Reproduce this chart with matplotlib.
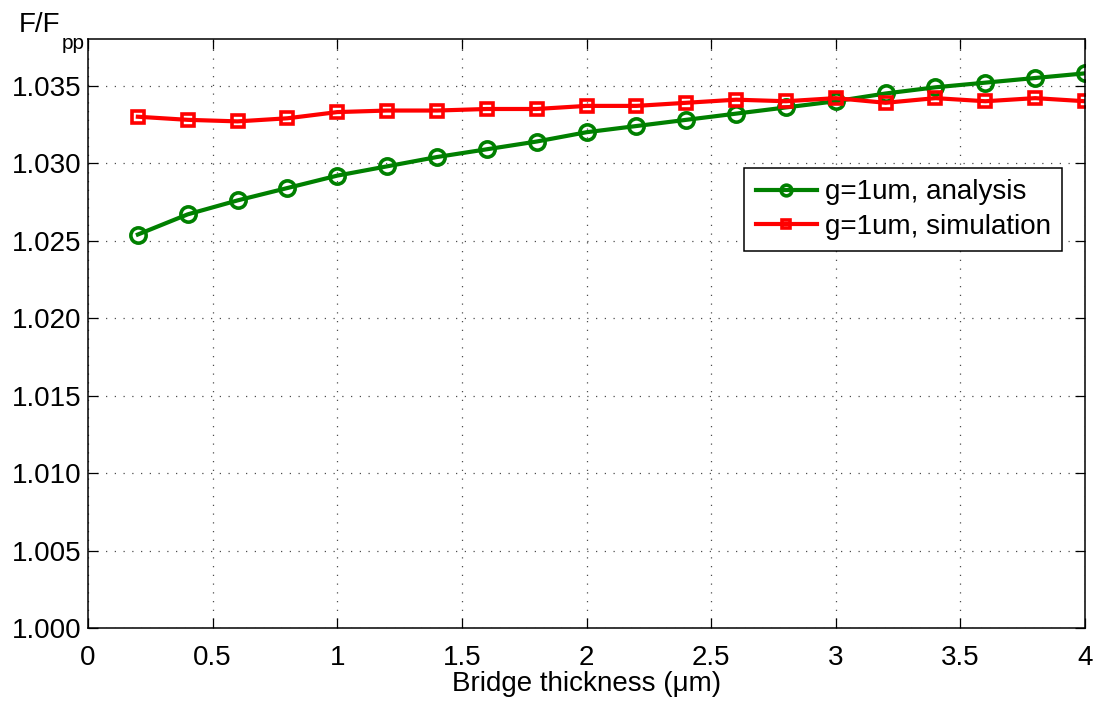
import matplotlib
matplotlib.use('Agg')
import matplotlib.pyplot as plt

plt.rcParams['font.family'] = ['Liberation Sans', 'DejaVu Sans']

# data
thickness = [0.2, 0.4, 0.6, 0.8, 1.0, 1.2, 1.4, 1.6, 1.8, 2.0,
             2.2, 2.4, 2.6, 2.8, 3.0, 3.2, 3.4, 3.6, 3.8, 4.0]
analysis = [1.0254, 1.0267, 1.0276, 1.0284, 1.0292, 1.0298, 1.0304, 1.0309, 1.0314, 1.0320,
            1.0324, 1.0328, 1.0332, 1.0336, 1.0340, 1.0345, 1.0349, 1.0352, 1.0355, 1.0358]
simulation = [1.0330, 1.0328, 1.0327, 1.0329, 1.0333, 1.0334, 1.0334, 1.0335, 1.0335, 1.0337,
              1.0337, 1.0339, 1.0341, 1.0340, 1.0342, 1.0339, 1.0342, 1.0340, 1.0342, 1.0340]
xticks = [0, 0.5, 1, 1.5, 2, 2.5, 3, 3.5, 4]
yticks = [1.000, 1.005, 1.010, 1.015, 1.020, 1.025, 1.030, 1.035]

fig = plt.figure(figsize=(10.96, 7.01), dpi=100)
ax = fig.add_axes([0.0803, 0.104, 0.9097, 0.840])

ax.plot(thickness, analysis, color='#008000', lw=3, marker='o', ms=11,
        mfc='none', mec='#008000', mew=2.6, label='g=1um, analysis')
ax.plot(thickness, simulation, color='#ff0000', lw=3, marker='s', ms=9,
        mfc='none', mec='#ff0000', mew=2.6, label='g=1um, simulation')

ax.set_xlim(0, 4)
ax.set_ylim(1.0, 1.038)
ax.set_xticks(xticks)
ax.set_xticklabels([f'{t:g}' for t in xticks])
ax.set_yticks(yticks)
ax.set_yticklabels([f'{t:.3f}' for t in yticks])
ax.tick_params(direction='in', top=True, right=True, labelsize=20, length=7, width=0.9)
ax.tick_params(axis='x', pad=12)
ax.tick_params(axis='y', pad=5)
ax.grid(True, linestyle=(0, (1, 6)), color='black', linewidth=0.9, alpha=0.7)
for s in ax.spines.values():
    s.set_linewidth(1.1)

ax.set_xlabel('Bridge thickness (\u03bcm)', fontsize=20, labelpad=0)

# y label in the upper-left corner, MATLAB-like
fig.text(0.017, 0.955, 'F/F', fontsize=20, ha='left', va='baseline')
fig.text(0.0566, 0.930, 'pp', fontsize=15, ha='left', va='baseline')

leg = ax.legend(loc='upper right', bbox_to_anchor=(0.977, 0.781), fontsize=20,
                frameon=True, fancybox=False, edgecolor='black', framealpha=1,
                borderpad=0.4, labelspacing=0.3, handlelength=2.2, handletextpad=0.3,
                borderaxespad=0, markerscale=0.7)
leg.get_frame().set_linewidth(1.1)

fig.savefig('out.png', dpi=100)
